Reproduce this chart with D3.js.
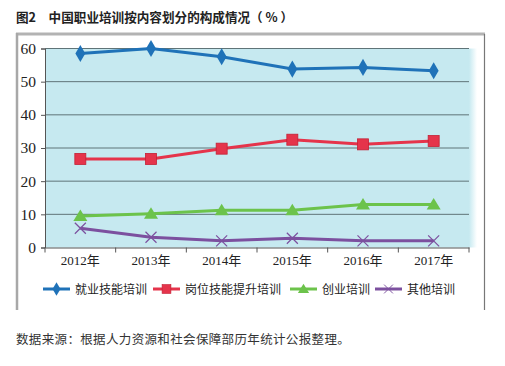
<!DOCTYPE html>
<html><head><meta charset="utf-8">
<script src="https://cdn.jsdelivr.net/npm/d3@7"></script>
<style>body{margin:0;background:#fff}svg{display:block}</style>
</head><body>
<svg id="c" width="505" height="366"></svg>
<script>
const categories = ["2012年","2013年","2014年","2015年","2016年","2017年"];
const yTicks = [0,10,20,30,40,50,60];
const seriesNames = ["就业技能培训","岗位技能提升培训","创业培训","其他培训"];
const jiuye = [58.5, 60.0, 57.5, 53.8, 54.3, 53.3];
const gangwei = [26.7, 26.7, 29.8, 32.5, 31.1, 32.1];
const chuangye = [9.5, 10.2, 11.2, 11.2, 13.0, 13.0];
const qita = [5.8, 3.1, 2.0, 2.8, 2.0, 2.0];
const title = "图2　中国职业培训按内容划分的构成情况（ % ）";
const source = "数据来源：根据人力资源和社会保障部历年统计公报整理。";

const colors = ["#1f72b8", "#e5344b", "#6cc34b", "#7c509f"];
const markers = ["diamond","square","triangle","cross"];
const seriesData = [jiuye, gangwei, chuangye, qita];

const svg = d3.select("#c");
const sans = "'Noto Sans CJK SC','Noto Sans',sans-serif";
const serif = "'Liberation Serif','Noto Sans CJK SC',serif";

// title
svg.append("text").attr("x",16).attr("y",22).attr("font-family",sans)
  .attr("font-size",12.6).attr("font-weight",700).attr("fill","#222").text(title);

// frame
svg.append("line").attr("x1",16).attr("x2",485).attr("y1",34).attr("y2",34).attr("stroke","#b3b3b3").attr("stroke-width",3);
svg.append("line").attr("x1",17).attr("x2",17).attr("y1",33).attr("y2",310).attr("stroke","#a8a8a8").attr("stroke-width",2.5);
svg.append("line").attr("x1",484.5).attr("x2",484.5).attr("y1",34).attr("y2",310).attr("stroke","#777").attr("stroke-width",1.2);

const m = {l:45, r:469, t:48.5, b:247.5};
const x = d3.scaleBand().domain(categories).range([m.l, m.r]);
const y = d3.scaleLinear().domain([0,60]).range([m.b, m.t]);

// plot bg
const defs = svg.append("defs");
const g = defs.append("linearGradient").attr("id","fade").attr("x1","0").attr("x2","1");
g.append("stop").attr("offset","0").attr("stop-color","#c6e9f0");
g.append("stop").attr("offset","1").attr("stop-color","#c6e9f0").attr("stop-opacity",0);
svg.append("rect").attr("x",m.l).attr("y",m.t).attr("width",m.r-m.l).attr("height",m.b-m.t).attr("fill","#c6e9f0");
svg.append("rect").attr("x",m.r).attr("y",m.t).attr("width",8).attr("height",m.b-m.t).attr("fill","url(#fade)");

// gridlines
svg.append("g").selectAll("line").data(yTicks.filter(d=>d>0)).join("line")
  .attr("x1",m.l).attr("x2",m.r).attr("y1",d=>y(d)).attr("y2",d=>y(d))
  .attr("stroke","#5f7478").attr("stroke-width",1);

// y axis
const ya = svg.append("g").attr("transform",`translate(${m.l},0)`)
  .call(d3.axisLeft(y).tickValues(yTicks).tickSize(4).tickPadding(5));
ya.select(".domain").attr("stroke","#555");
ya.selectAll(".tick line").attr("stroke","#555");
ya.selectAll("text").attr("font-family",serif).attr("font-size",15.5).attr("fill","#222");

// x axis
const xa = svg.append("g").attr("transform",`translate(0,${m.b})`)
  .call(d3.axisBottom(x).tickSize(0).tickPadding(8));
xa.select(".domain").attr("stroke","#555");
xa.selectAll("text").attr("font-family",serif).attr("font-size",13).attr("fill","#222");
svg.append("g").selectAll("line").data(categories.map((c,i)=>i).concat([categories.length]))
  .join("line").attr("x1",i=>m.l+i*x.step()).attr("x2",i=>m.l+i*x.step())
  .attr("y1",m.b).attr("y2",m.b+5).attr("stroke","#555");

function drawMarker(sel, type, color) {
  if (type==="diamond") {
    sel.append("path").attr("d",d3.symbol(d3.symbolDiamond, 85)()).attr("fill",color);
  } else if (type==="square") {
    sel.append("rect").attr("x",-5.5).attr("y",-5.5).attr("width",11).attr("height",11).attr("fill",color).attr("stroke","#c42035").attr("stroke-width",0.8);
  } else if (type==="triangle") {
    sel.append("path").attr("d","M0,-6.5L7,5L-7,5Z").attr("fill",color);
  } else {
    sel.append("path").attr("d","M-5.5,-5.5L5.5,5.5M-5.5,5.5L5.5,-5.5").attr("stroke",color).attr("stroke-width",1.2).attr("fill","none");
  }
}

const line = d3.line().x((d,i)=>x(categories[i])+x.bandwidth()/2).y(d=>y(d));
seriesData.forEach((data,k)=>{
  svg.append("path").datum(data).attr("d",line).attr("fill","none")
    .attr("stroke",colors[k]).attr("stroke-width",3);
  const pts = svg.append("g").selectAll("g").data(data).join("g")
    .attr("transform",(d,i)=>`translate(${x(categories[i])+x.bandwidth()/2},${y(d)})`);
  pts.each(function(){ drawMarker(d3.select(this), markers[k], colors[k]); });
});

// legend
const legX = [43, 153, 290, 375];
const leg = svg.append("g");
seriesNames.forEach((n,k)=>{
  const gg = leg.append("g").attr("transform",`translate(${legX[k]},289)`);
  gg.append("line").attr("x1",0).attr("x2",27).attr("y1",0).attr("y2",0).attr("stroke",colors[k]).attr("stroke-width",3);
  const mk = gg.append("g").attr("transform","translate(13.5,0) scale(0.8)");
  drawMarker(mk, markers[k], colors[k]);
  gg.append("text").attr("x",32).attr("y",4.5).attr("font-family",sans).attr("font-size",12)
    .attr("fill","#222").text(n);
});

// source
svg.append("text").attr("x",16).attr("y",344).attr("font-family",sans).attr("font-size",12.5)
  .attr("letter-spacing",0.35).attr("fill","#333").text(source);
</script>
</body></html>
